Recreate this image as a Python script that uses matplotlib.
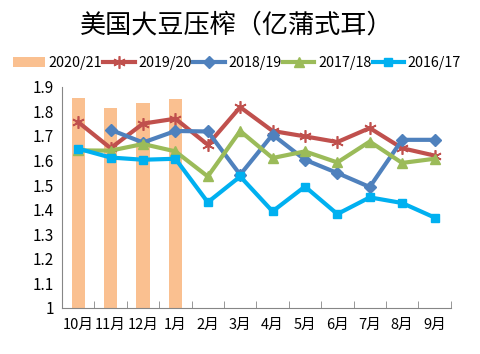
import matplotlib
matplotlib.use('Agg')
import matplotlib.pyplot as plt
import numpy as np

plt.rcParams['font.family'] = ['Noto Sans CJK SC', 'DejaVu Sans']

months = ['10月', '11月', '12月', '1月', '2月', '3月', '4月', '5月', '6月', '7月', '8月', '9月']

y2021 = [1.854, 1.813, 1.833, 1.850]
y1920 = [1.756, 1.650, 1.750, 1.770, 1.664, 1.817, 1.720, 1.698, 1.675, 1.732, 1.650, 1.620]
y1819 = [np.nan, 1.725, 1.673, 1.720, 1.718, 1.542, 1.705, 1.603, 1.549, 1.492, 1.684, 1.684]
y1718 = [1.641, 1.640, 1.667, 1.637, 1.535, 1.720, 1.610, 1.637, 1.592, 1.677, 1.590, 1.607]
y1617 = [1.648, 1.612, 1.603, 1.607, 1.430, 1.535, 1.393, 1.494, 1.382, 1.450, 1.427, 1.368]

x = np.arange(len(months))

fig = plt.figure(figsize=(4.81, 3.54), dpi=100)
ax = fig.add_axes([0.129, 0.130, 0.808, 0.625])

ax.bar(x[:len(y2021)], np.array(y2021) - 1, bottom=1, width=0.41,
       color='#FAC090', label='2020/21', zorder=1)
ax.plot(x, y1920, color='#C0504D', lw=3, marker=(6, 2, 0), ms=9, mew=1.2,
        label='2019/20', zorder=3)
ax.plot(x, y1819, color='#4F81BD', lw=3, marker='D', ms=6,
        label='2018/19', zorder=3)
ax.plot(x, y1718, color='#9BBB59', lw=3, marker='^', ms=7,
        label='2017/18', zorder=3)
ax.plot(x, y1617, color='#00B0F0', lw=3, marker='s', ms=5.5,
        label='2016/17', zorder=3)

ax.set_xlim(-0.5, len(months) - 0.5)
ax.set_ylim(1, 1.9)
ax.set_yticks(np.arange(1, 1.91, 0.1))
ax.set_yticklabels(['1'] + ['%.1f' % v for v in np.arange(1.1, 1.91, 0.1)])
ax.set_xticks(x)
ax.set_xticklabels(months)
ax.set_xticks(np.arange(-0.5, len(months)), minor=True)
ax.tick_params(axis='x', which='major', length=0, labelsize=10.5, pad=7)
ax.tick_params(axis='x', which='minor', length=5, direction='in', color='#868686')
ax.tick_params(axis='y', length=0, labelsize=11, pad=6)

for s in ['top', 'right']:
    ax.spines[s].set_visible(False)
for s in ['left', 'bottom']:
    ax.spines[s].set_color('#868686')

fig.text(0.492, 0.928, '美国大豆压榨（亿蒲式耳）', ha='center', va='center',
         fontsize=18.8, fontweight='medium')

handles, labels = ax.get_legend_handles_labels()
order = [labels.index(l) for l in ['2020/21', '2019/20', '2018/19', '2017/18', '2016/17']]
fig.legend([handles[i] for i in order], [labels[i] for i in order],
           loc='center', bbox_to_anchor=(0.493, 0.822), ncol=5, frameon=False,
           fontsize=10.3, handlelength=2.2, handletextpad=0.25, columnspacing=0.1)

fig.savefig('out.png', dpi=100)
